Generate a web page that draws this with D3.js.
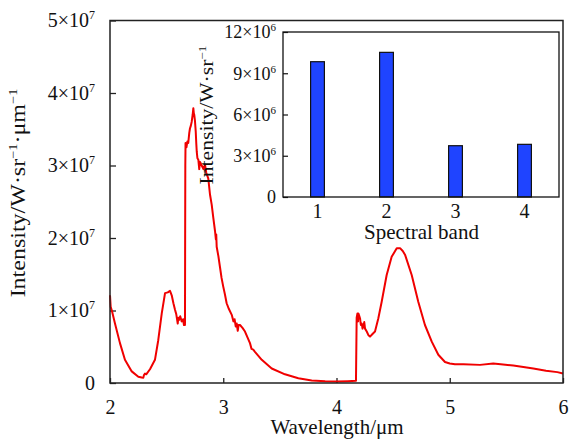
<!DOCTYPE html>
<html><head><meta charset="utf-8">
<script src="https://cdn.jsdelivr.net/npm/d3@7"></script>
<style>
html,body{margin:0;padding:0;background:#fff;}
text{font-family:"Liberation Serif","Times New Roman",serif;fill:#111;}
</style></head>
<body><svg id="chart" width="570" height="448"></svg>
<script>
// Main spectrum: wavelength (µm) and intensity (units of 1e7 W·sr^-1·µm^-1)
const wavelength = [2.000,2.006,2.018,2.044,2.088,2.132,2.192,2.250,2.280,2.294,2.300,2.309,2.320,2.353,2.397,2.426,2.457,2.486,2.510,2.530,2.545,2.560,2.574,2.585,2.598,2.603,2.609,2.620,2.633,2.645,2.653,2.662,2.665,2.667,2.675,2.683,2.691,2.700,2.706,2.714,2.721,2.730,2.736,2.740,2.744,2.750,2.757,2.762,2.766,2.772,2.780,2.788,2.795,2.810,2.825,2.839,2.850,2.868,2.883,2.898,2.912,2.927,2.935,2.938,2.942,2.957,2.971,2.985,3.000,3.015,3.030,3.050,3.075,3.090,3.100,3.110,3.119,3.128,3.135,3.148,3.170,3.192,3.236,3.250,3.265,3.280,3.340,3.428,3.545,3.663,3.781,3.900,4.002,4.100,4.172,4.178,4.185,4.190,4.193,4.200,4.208,4.215,4.223,4.230,4.237,4.245,4.252,4.267,4.282,4.296,4.320,4.340,4.369,4.399,4.443,4.487,4.532,4.561,4.585,4.605,4.664,4.722,4.781,4.841,4.899,4.958,5.000,5.046,5.120,5.267,5.384,5.450,5.561,5.650,5.738,5.850,5.950,6.000];
const intensity = [1.21,1.05,0.99,0.82,0.55,0.32,0.16,0.087,0.075,0.073,0.11,0.13,0.12,0.19,0.32,0.59,0.96,1.24,1.25,1.27,1.21,1.10,1.01,0.95,0.82,0.90,0.87,0.92,0.85,0.88,0.80,0.80,3.00,3.31,3.25,3.33,3.31,3.45,3.51,3.55,3.60,3.70,3.79,3.72,3.70,3.62,3.47,3.30,3.19,3.10,3.08,2.95,3.05,3.00,2.95,3.01,2.90,2.82,2.60,2.46,2.28,2.10,1.98,2.05,1.88,1.75,1.60,1.45,1.33,1.22,1.10,1.02,0.94,0.85,0.88,0.78,0.82,0.72,0.80,0.80,0.76,0.71,0.55,0.47,0.46,0.43,0.32,0.20,0.12,0.065,0.035,0.025,0.02,0.025,0.03,0.90,0.96,0.85,0.96,0.93,0.89,0.80,0.82,0.75,0.78,0.84,0.75,0.71,0.66,0.64,0.68,0.71,0.89,1.12,1.49,1.74,1.86,1.86,1.82,1.77,1.49,1.12,0.80,0.57,0.39,0.29,0.27,0.26,0.26,0.25,0.27,0.26,0.24,0.22,0.20,0.17,0.15,0.13];
const xTicks = [2,3,4,5,6];
const yTicks = [0,1,2,3,4,5];           // ×10^7
// Inset
const bands = ["1","2","3","4"];
const bandValues = [9.84,10.52,3.73,3.83]; // ×10^6
const insetTicks = [0,3,6,9,12];        // ×10^6

const svg = d3.select("#chart");
const M = {l:110,r:563,t:20.5,b:383};
const x = d3.scaleLinear().domain([2,6]).range([M.l,M.r]);
const y = d3.scaleLinear().domain([0,5]).range([M.b,M.t]);

function sciLabel(sel, exp, supSize, supDy){
  sel.each(function(d){
    const t = d3.select(this); t.text(null);
    if(d===0){ t.text("0"); return; }
    t.append("tspan").text(d+"×10");
    t.append("tspan").attr("font-size",supSize).attr("dy",supDy).text(exp);
  });
}

// main y axis
const gy = svg.append("g").attr("transform",`translate(${M.l},0)`)
  .call(d3.axisLeft(y).tickValues(yTicks).tickSize(-6).tickPadding(15));
gy.select(".domain").remove();
gy.selectAll(".tick line").attr("stroke","#222").attr("stroke-width",1.3);
gy.selectAll(".tick text").attr("font-size",20).attr("font-family","Liberation Serif").call(sciLabel,"7",12,-8);

// main x axis
const gx = svg.append("g").attr("transform",`translate(0,${M.b})`)
  .call(d3.axisBottom(x).tickValues(xTicks).tickSize(-5).tickPadding(17).tickFormat(d3.format("d")));
gx.select(".domain").remove();
gx.selectAll(".tick line").attr("stroke","#222").attr("stroke-width",1.3);
gx.selectAll(".tick text").attr("font-size",20).attr("font-family","Liberation Serif");

// curve
const data = wavelength.map((w,i)=>[w,intensity[i]]);
svg.append("path").datum(data)
  .attr("fill","none").attr("stroke","#f00000").attr("stroke-width",2).attr("stroke-linejoin","round")
  .attr("d",d3.line().x(d=>x(d[0])).y(d=>y(d[1])));

// main frame
svg.append("rect").attr("x",M.l).attr("y",M.t).attr("width",M.r-M.l).attr("height",M.b-M.t)
  .attr("fill","none").attr("stroke","#222").attr("stroke-width",1.5);

// titles
svg.append("text").attr("x",337).attr("y",434).attr("text-anchor","middle").attr("font-size",21).text("Wavelength/μm");
const yt = svg.append("text").attr("transform","translate(25,193) rotate(-90) scale(1.2,1)").attr("text-anchor","middle").attr("font-size",20);
yt.append("tspan").text("Intensity/W·sr");
yt.append("tspan").attr("font-size",12).attr("dy",-8).text("−1");
yt.append("tspan").attr("dy",8).text("·μm");
yt.append("tspan").attr("font-size",12).attr("dy",-8).text("−1");

// inset
const I = {l:283,r:559,t:32,b:197};
svg.append("rect").attr("x",I.l).attr("y",I.t).attr("width",I.r-I.l).attr("height",I.b-I.t).attr("fill","#fff");
const xb = d3.scaleBand().domain(bands).range([I.l,I.r]).paddingInner(0.8).paddingOuter(0.4);
const yb = d3.scaleLinear().domain([0,12]).range([I.b,I.t]);

svg.append("g").selectAll("rect").data(bands).join("rect")
  .attr("x",d=>xb(d)).attr("width",xb.bandwidth())
  .attr("y",(d,i)=>yb(bandValues[i])).attr("height",(d,i)=>yb(0)-yb(bandValues[i]))
  .attr("fill","#1f44ff").attr("stroke","#111").attr("stroke-width",1.2);

const giy = svg.append("g").attr("transform",`translate(${I.l},0)`)
  .call(d3.axisLeft(yb).tickValues(insetTicks).tickSize(-5).tickPadding(7));
giy.select(".domain").remove();
giy.selectAll(".tick line").attr("stroke","#111").attr("stroke-width",1.2);
giy.selectAll(".tick text").attr("font-size",18).attr("font-family","Liberation Serif").call(sciLabel,"6",11,-7);

const gix = svg.append("g").attr("transform",`translate(0,${I.b})`)
  .call(d3.axisBottom(xb).tickSize(0).tickPadding(7));
gix.select(".domain").remove();
gix.selectAll(".tick text").attr("font-size",20).attr("font-family","Liberation Serif");

svg.append("rect").attr("x",I.l).attr("y",I.t).attr("width",I.r-I.l).attr("height",I.b-I.t)
  .attr("fill","none").attr("stroke","#111").attr("stroke-width",1.3);

svg.append("text").attr("x",421.5).attr("y",239).attr("text-anchor","middle").attr("font-size",21).text("Spectral band");
const it = svg.append("text").attr("transform","translate(213,115) rotate(-90) scale(1.2,1)").attr("text-anchor","middle").attr("font-size",18);
it.append("tspan").text("Intensity/W·sr");
it.append("tspan").attr("font-size",11).attr("dy",-7).text("−1");
</script></body></html>
